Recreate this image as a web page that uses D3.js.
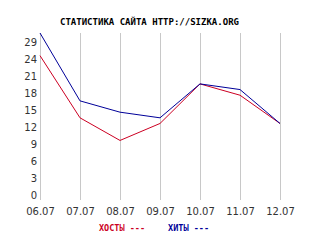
<!DOCTYPE html>
<html>
<head>
<meta charset="utf-8">
<script src="https://cdn.jsdelivr.net/npm/d3@7/dist/d3.min.js"></script>
<style>
html,body{margin:0;padding:0;background:#fff;}
svg{display:block;}
</style>
</head>
<body>
<svg id="chart" width="320" height="240"></svg>
<script>
const categories = ["06.07","07.07","08.07","09.07","10.07","11.07","12.07"];
const hosts = [25, 14, 10, 13, 20, 18, 13];
const hits  = [29, 17, 15, 14, 20, 19, 13];
const yTickValues = [0, 3, 6, 9, 12, 15, 18, 21, 24, 27];
const yTickLabels = ["0","3","6","9","12","15","18","21","24","29"];
const titleText = "СТАТИСТИКА САЙТА HTTP://SIZKA.ORG";
const legendLabels = ["ХОСТЫ ---", "ХИТЫ ---"];

const svg = d3.select("#chart");
const x = d3.scalePoint().domain(categories).range([40, 280]);
const y = d3.scaleLinear().domain([0, 29]).range([197, 33]);
const gridTop = 33, gridBottom = 200;

// title
svg.append("text")
  .attr("x", 60).attr("y", 25)
  .attr("textLength", 179).attr("lengthAdjust", "spacingAndGlyphs")
  .style("font-family", "DejaVu Sans Mono").style("font-size", "8px").style("font-weight", "bold")
  .attr("fill", "#000").text(titleText);

// vertical grid lines
svg.append("g").selectAll("line").data(categories).join("line")
  .attr("x1", d => x(d) + 0.5).attr("x2", d => x(d) + 0.5)
  .attr("y1", gridTop).attr("y2", gridBottom)
  .attr("stroke", "#c8c8c8").attr("stroke-width", 1);

// y axis labels
const yAxis = d3.axisLeft(y).tickValues(yTickValues)
  .tickFormat((d, i) => yTickLabels[i]).tickSize(0).tickPadding(3);
const gy = svg.append("g").attr("transform", "translate(40,-2)").call(yAxis);
gy.select(".domain").remove();
gy.selectAll("text").style("font-family", "DejaVu Sans").style("font-size", "10px").attr("fill", "#333");

// x axis labels
const xAxis = d3.axisBottom(x).tickSize(0).tickPadding(8);
const gx = svg.append("g").attr("transform", "translate(0,200)").call(xAxis);
gx.select(".domain").remove();
gx.selectAll("text").style("font-family", "DejaVu Sans").style("font-size", "10px").attr("fill", "#333");

// lines
const line = d3.line().x((d, i) => x(categories[i])).y(d => y(d));
svg.append("path").datum(hosts).attr("d", line)
  .attr("fill", "none").attr("stroke", "#cc0022").attr("stroke-width", 1);
svg.append("path").datum(hits).attr("d", line)
  .attr("fill", "none").attr("stroke", "#000099").attr("stroke-width", 1);

// legend
const legendColors = ["#cc0022", "#000099"];
const legendX = [99, 168];
const legendW = [46, 41];
svg.append("g").selectAll("text").data(legendLabels).join("text")
  .attr("x", (d, i) => legendX[i]).attr("y", 231)
  .attr("textLength", (d, i) => legendW[i]).attr("lengthAdjust", "spacingAndGlyphs")
  .style("font-family", "DejaVu Sans Mono").style("font-size", "8px").style("font-weight", "bold")
  .attr("fill", (d, i) => legendColors[i]).text(d => d);
</script>
</body>
</html>
